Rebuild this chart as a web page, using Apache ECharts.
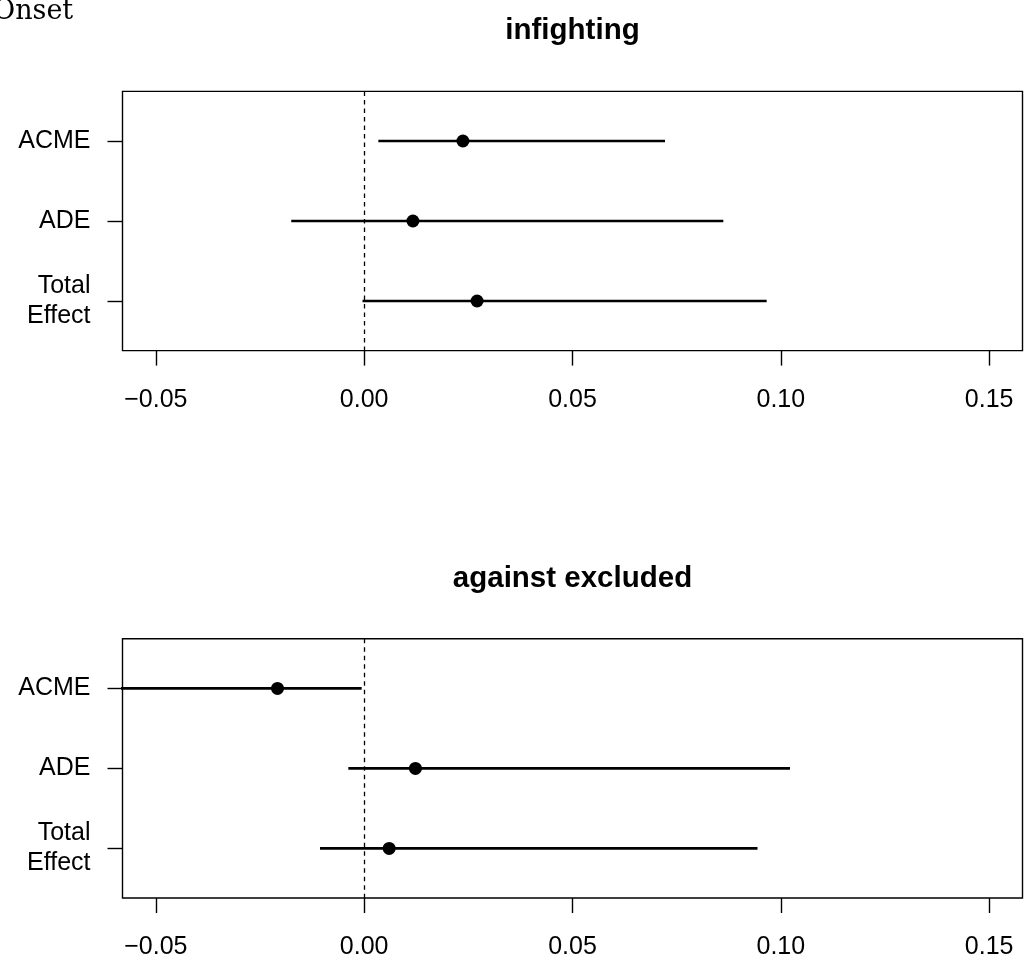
<!DOCTYPE html>
<html>
<head>
<meta charset="utf-8">
<script src="https://cdn.jsdelivr.net/npm/echarts@6/dist/echarts.min.js"></script>
<style>
  html, body { margin: 0; padding: 0; background: #fff; }
  #chart { width: 1029px; height: 972px; }
</style>
</head>
<body>
<div id="chart"></div>
<script>
// Mediation estimates (point estimate and confidence interval) per panel
const rowLabels = ['ACME', 'ADE', 'Total\nEffect'];
const rowIndex = [1, 2, 3];
const panelTitles = ['infighting', 'against excluded'];

const infightingEst = [0.0237, 0.0117, 0.0271];
const infightingLo  = [0.0034, -0.0175, -0.0004];
const infightingHi  = [0.0722, 0.0862, 0.0966];

const excludedEst = [-0.0208, 0.0123, 0.0060];
const excludedLo  = [-0.0650, -0.0038, -0.0106];
const excludedHi  = [-0.0006, 0.1022, 0.0944];

const xTicks = [-0.05, 0.00, 0.05, 0.10, 0.15];
const xRange = [-0.058, 0.158];
const yRange = [0.38, 3.62];

const panels = [
  { est: infightingEst, lo: infightingLo, hi: infightingHi },
  { est: excludedEst,   lo: excludedLo,   hi: excludedHi }
];

const FONT = '"Liberation Sans", Arial, Helvetica, sans-serif';
const gridBoxes = [
  { left: 122.5, top: 91.4, width: 900, height: 259.2 },
  { left: 122.5, top: 638.8, width: 900, height: 259.2 }
];

function fmtTick(v) {
  const s = Math.abs(v).toFixed(2);
  return v < -1e-9 ? '\u2212' + s : s;
}

const grids = [], xAxes = [], yAxes = [], series = [];

panels.forEach(function (p, k) {
  grids.push(Object.assign({
    show: true, borderColor: '#000', borderWidth: 1.4, backgroundColor: 'transparent'
  }, gridBoxes[k]));

  xAxes.push({
    type: 'value', gridIndex: k, min: xRange[0], max: xRange[1],
    position: 'bottom',
    splitLine: { show: false },
    axisLine: { show: false, onZero: false },
    axisTick: { show: true, inside: false, length: 15, customValues: xTicks,
                lineStyle: { color: '#000', width: 1.4 } },
    axisLabel: { show: true, customValues: xTicks, margin: 37, color: '#000',
                 fontFamily: FONT, fontSize: 25, formatter: fmtTick }
  });

  yAxes.push({
    type: 'value', gridIndex: k, min: yRange[0], max: yRange[1], inverse: true,
    position: 'left',
    splitLine: { show: false },
    axisLine: { show: false, onZero: false },
    axisTick: { show: true, inside: false, length: 15, customValues: rowIndex,
                lineStyle: { color: '#000', width: 1.4 } },
    axisLabel: { show: true, customValues: rowIndex, margin: 32, color: '#000',
                 fontFamily: FONT, fontSize: 25, lineHeight: 30, align: 'right',
                 padding: [4, 0, 0, 0],
                 formatter: function (v) { return rowLabels[Math.round(v) - 1] || ''; } }
  });

  // confidence interval segments, one per row
  rowIndex.forEach(function (r, i) {
    const s = {
      type: 'line', xAxisIndex: k, yAxisIndex: k, clip: true,
      data: [[p.lo[i], r], [p.hi[i], r]],
      symbol: 'none', silent: true,
      lineStyle: { color: '#000', width: 2.6 }
    };
    if (i === 0) {
      // dashed reference line at zero
      s.markLine = {
        silent: true, symbol: 'none', label: { show: false },
        lineStyle: { color: '#000', width: 1.3, type: [4.5, 4] },
        data: [{ xAxis: 0 }]
      };
    }
    series.push(s);
  });

  // point estimates
  series.push({
    type: 'scatter', xAxisIndex: k, yAxisIndex: k,
    data: p.est.map(function (v, i) { return [v, rowIndex[i]]; }),
    symbol: 'circle', symbolSize: 13,
    itemStyle: { color: '#000', opacity: 1 }, silent: true, z: 5
  });
});

const chart = echarts.init(document.getElementById('chart'), null, { renderer: 'canvas' });
chart.setOption({
  animation: false,
  backgroundColor: '#fff',
  grid: grids,
  xAxis: xAxes,
  yAxis: yAxes,
  series: series,
  graphic: [
    { type: 'text', left: -7, top: -2,
      style: { text: 'Onset', fontFamily: '"DejaVu Serif", "Liberation Serif", serif',
               fontSize: 27, fill: '#000' } },
    { type: 'text', x: 572.5, y: 31,
      style: { text: panelTitles[0], fontFamily: FONT, fontWeight: 'bold', fontSize: 29.5,
               fill: '#000', align: 'center', verticalAlign: 'middle' } },
    { type: 'text', x: 572.5, y: 579,
      style: { text: panelTitles[1], fontFamily: FONT, fontWeight: 'bold', fontSize: 29.5,
               fill: '#000', align: 'center', verticalAlign: 'middle' } }
  ]
});
</script>
</body>
</html>
